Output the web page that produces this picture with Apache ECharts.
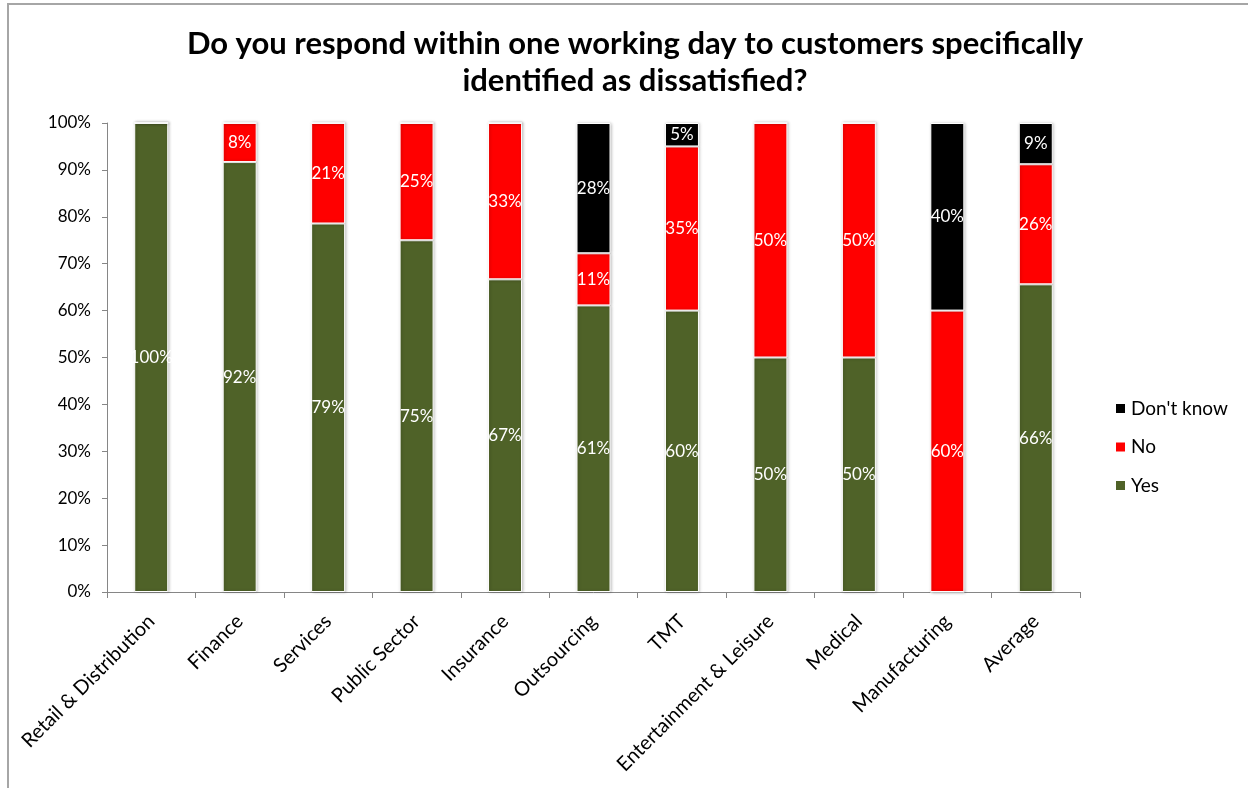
<!DOCTYPE html>
<html>
<head>
<meta charset="utf-8">
<script src="https://cdn.jsdelivr.net/npm/echarts@6/dist/echarts.min.js"></script>
<style>
html,body{margin:0;padding:0;background:#fff;}
#chart{width:1248px;height:788px;}
</style>
</head>
<body>
<div id="chart"></div>
<script>
const categories = ['Retail & Distribution','Finance','Services','Public Sector','Insurance','Outsourcing','TMT','Entertainment & Leisure','Medical','Manufacturing','Average'];
const yesValues = [100, 91.67, 78.57, 75, 66.67, 61.11, 60, 50, 50, 0, 65.6];
const noValues = [0, 8.33, 21.43, 25, 33.33, 11.11, 35, 50, 50, 60, 25.6];
const dontKnowValues = [0, 0, 0, 0, 0, 27.78, 5, 0, 0, 40, 8.8];
const titleText = 'Do you respond within one working day to customers specifically\nidentified as dissatisfied?';

const FONT = 'Lato, "Open Sans", sans-serif';
const chart = echarts.init(document.getElementById('chart'));

const lbl = {
  show: true, position: 'inside', color: '#fff', fontSize: 17, fontFamily: FONT,
  formatter: p => p.value > 0 ? Math.round(p.value) + '%' : ''
};
const itemBase = { borderColor: '#fff', borderWidth: 1, shadowBlur: 3, shadowColor: 'rgba(0,0,0,0.25)', shadowOffsetX: 1 };

chart.setOption({
  animation: false,
  backgroundColor: '#fff',
  graphic: [{
    type: 'rect', silent: true,
    shape: { x: 8, y: 4, width: 1400, height: 900 },
    style: { fill: 'none', stroke: '#a6a6a6', lineWidth: 2 }
  }],
  title: {
    text: titleText, left: 630, top: 20, textAlign: 'center',
    textStyle: { fontFamily: FONT, fontWeight: 'bold', fontSize: 31, lineHeight: 37, color: '#000' }
  },
  legend: {
    orient: 'vertical', left: 1109, top: 394,
    itemWidth: 11, itemHeight: 11, itemGap: 19.5,
    data: ["Don't know", 'No', 'Yes'],
    textStyle: { fontFamily: FONT, fontSize: 19, color: '#000' },
    icon: 'rect'
  },
  grid: { left: 107, right: 168, top: 123, bottom: 196, containLabel: false },
  xAxis: {
    type: 'category', data: categories,
    axisLine: { lineStyle: { color: '#868686' } },
    axisTick: { show: true, interval: 0, length: 6, lineStyle: { color: '#868686' } },
    axisLabel: { interval: 0, rotate: 45, fontSize: 20, fontFamily: FONT, color: '#000', margin: 26 }
  },
  yAxis: {
    type: 'value', min: 0, max: 100, interval: 10,
    axisLine: { show: true, lineStyle: { color: '#868686' } },
    axisTick: { show: true, length: 5, lineStyle: { color: '#868686' } },
    splitLine: { show: false },
    axisLabel: { formatter: '{value}%', fontSize: 17, fontFamily: FONT, color: '#000', margin: 16 }
  },
  series: [
    { name: 'Yes', type: 'bar', stack: 's', barWidth: 34, data: yesValues, itemStyle: Object.assign({ color: '#4F6228' }, itemBase), label: lbl },
    { name: 'No', type: 'bar', stack: 's', barWidth: 34, data: noValues, itemStyle: Object.assign({ color: '#FF0000' }, itemBase), label: lbl },
    { name: "Don't know", type: 'bar', stack: 's', barWidth: 34, data: dontKnowValues, itemStyle: Object.assign({ color: '#000000' }, itemBase), label: lbl }
  ]
});
</script>
</body>
</html>
